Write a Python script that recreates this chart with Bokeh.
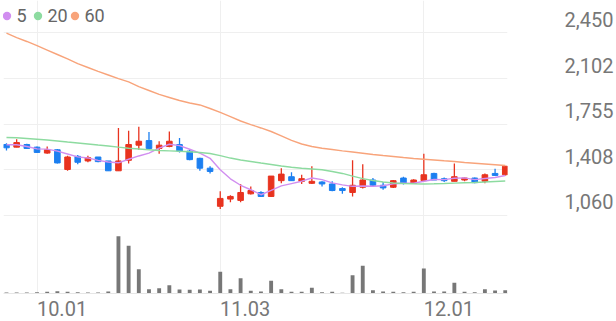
from bokeh.plotting import figure
from bokeh.models import FixedTicker, Range1d, Legend, LegendItem, ColumnDataSource
from bokeh.embed import file_html
from bokeh.resources import INLINE

# ---------------- data ----------------
idx = list(range(50))
opens = [1600, 1580, 1600, 1580, 1535, 1560, 1410, 1510, 1475, 1505,
         1475, 1400, 1480, 1595, 1630, 1570, 1585, 1600, 1550, 1495,
         1420, 1130, 1185, 1175, 1225, 1235, 1205, 1325, 1355, 1320,
         1305, 1315, 1300, 1265, 1235, 1275, 1330, 1290, 1275, 1345,
         1305, 1325, 1380, 1340, 1320, 1330, 1345, 1320, 1380, 1370]
highs = [1610, 1640, 1605, 1585, 1585, 1565, 1515, 1520, 1515, 1505,
         1475, 1725, 1705, 1735, 1695, 1625, 1700, 1650, 1560, 1500,
         1435, 1245, 1215, 1300, 1280, 1245, 1360, 1420, 1390, 1370,
         1435, 1320, 1320, 1275, 1480, 1450, 1345, 1315, 1330, 1355,
         1335, 1530, 1385, 1350, 1455, 1350, 1350, 1380, 1415, 1435]
lows = [1555, 1580, 1565, 1535, 1530, 1455, 1400, 1450, 1465, 1465,
        1400, 1400, 1455, 1560, 1570, 1530, 1580, 1540, 1480, 1400,
        1380, 1110, 1160, 1160, 1220, 1200, 1200, 1305, 1325, 1300,
        1300, 1280, 1245, 1225, 1205, 1265, 1280, 1255, 1270, 1295,
        1305, 1325, 1330, 1315, 1320, 1320, 1305, 1305, 1360, 1365]
closes = [1575, 1615, 1570, 1540, 1560, 1460, 1505, 1465, 1500, 1470,
          1400, 1475, 1600, 1625, 1570, 1595, 1625, 1550, 1485, 1420,
          1395, 1190, 1205, 1235, 1250, 1205, 1360, 1375, 1325, 1340,
          1320, 1300, 1250, 1250, 1290, 1330, 1290, 1270, 1325, 1305,
          1330, 1370, 1330, 1325, 1355, 1345, 1310, 1370, 1365, 1435]
ma5 = [1598, 1598, 1585, 1567, 1565, 1550, 1528, 1506, 1498, 1479,
       1467, 1461, 1488, 1513, 1534, 1572, 1602, 1592, 1564, 1534,
       1495, 1408, 1339, 1290, 1256, 1218, 1251, 1285, 1303, 1321,
       1345, 1333, 1308, 1293, 1282, 1284, 1282, 1286, 1301, 1305,
       1305, 1321, 1334, 1333, 1343, 1346, 1333, 1341, 1349, 1364]
ma20 = [1653, 1651, 1646, 1640, 1634, 1627, 1619, 1612, 1604, 1596,
        1589, 1580, 1572, 1566, 1560, 1554, 1552, 1549, 1545, 1539,
        1532, 1516, 1497, 1482, 1471, 1459, 1448, 1437, 1427, 1420,
        1414, 1408, 1395, 1380, 1360, 1341, 1326, 1315, 1307, 1303,
        1301, 1300, 1301, 1303, 1306, 1309, 1311, 1315, 1319, 1322]
ma60 = [2448, 2414, 2384, 2353, 2319, 2285, 2251, 2216, 2186, 2156,
        2129, 2102, 2076, 2041, 2011, 1981, 1958, 1935, 1916, 1901,
        1874, 1844, 1813, 1779, 1752, 1726, 1699, 1665, 1631, 1604,
        1585, 1572, 1562, 1552, 1543, 1534, 1524, 1516, 1509, 1501,
        1494, 1488, 1482, 1476, 1471, 1463, 1458, 1452, 1446, 1440]
volume = [10, 10, 10, 13, 17, 23, 17, 13, 10, 10,
          20, 573, 477, 243, 43, 53, 83, 40, 37, 40,
          27, 217, 43, 153, 27, 20, 127, 43, 17, 17,
          57, 13, 17, 7, 183, 277, 33, 20, 17, 13,
          17, 250, 20, 20, 107, 17, 13, 43, 30, 33]
x_tick_pos = [3, 21, 41]
x_tick_labels = ["10.01", "11.03", "12.01"]
y_grid_values = [1060, 1408, 1755, 2102, 2450]
ma_labels = ["5", "20", "60"]

# ---------------- styles / layout ----------------
RED, BLUE = "#e8331f", "#1c7ff0"
MA_COLORS = ["#d18ef0", "#8ddba0", "#f8a47b"]
GRID = "#efefef"
TEXT = "#777777"
FONT = "Roboto"

W, H = 616, 321
FRAME_H = 293
LEFT_PAD, RIGHT_PAD = 3, 105
STEP_PX = 10.26
# pixel rows (from top) of the lowest and highest price grid lines
G_LO_PX, G_HI_PX = 215.0, 32.3
upp = (y_grid_values[-1] - y_grid_values[0]) / (G_LO_PX - G_HI_PX)
y_start = y_grid_values[0] - (FRAME_H - G_LO_PX) * upp
y_end = y_grid_values[-1] + G_HI_PX * upp
x_start = -3.0 / STEP_PX
x_end = x_start + (W - LEFT_PAD - RIGHT_PAD) / STEP_PX

p = figure(width=W, height=H, output_backend="svg", toolbar_location=None,
           y_axis_location="right",
           x_range=Range1d(x_start, x_end), y_range=Range1d(y_start, y_end),
           min_border_left=LEFT_PAD, min_border_right=RIGHT_PAD,
           min_border_top=0, min_border_bottom=H - FRAME_H)
p.outline_line_color = None
p.background_fill_color = "white"
p.border_fill_color = "white"
p.extra_y_ranges = {"vol": Range1d(0, FRAME_H * 10)}

# grids
p.xgrid[0].ticker = FixedTicker(ticks=x_tick_pos)
p.ygrid[0].ticker = FixedTicker(ticks=y_grid_values)
for g in (p.xgrid[0], p.ygrid[0]):
    g.grid_line_color = GRID
    g.grid_line_width = 1

# x axis (labels start at their grid line)
LABEL_SHIFT_PX = 25.2
x_label_ticks = [t + LABEL_SHIFT_PX / STEP_PX for t in x_tick_pos]
xa = p.xaxis[0]
xa.ticker = FixedTicker(ticks=x_label_ticks)
xa.major_label_overrides = {t: s for t, s in zip(x_label_ticks, x_tick_labels)}
xa.major_tick_line_color = None
xa.minor_tick_line_color = None
xa.axis_line_color = "#e6e6e6"
xa.major_label_standoff = 1
xa.major_label_text_font = FONT
xa.major_label_text_font_size = "20px"
xa.major_label_text_color = TEXT

# y axis (labels sit above their grid lines)
LABEL_LIFT_PX = 13.5
label_ticks = [int(round(v + LABEL_LIFT_PX * upp)) for v in y_grid_values]
ya = p.yaxis[0]
ya.ticker = FixedTicker(ticks=label_ticks)
ya.major_label_overrides = {t: f"{v:,}" for t, v in zip(label_ticks, y_grid_values)}
ya.major_tick_line_color = None
ya.minor_tick_line_color = None
ya.axis_line_color = None
ya.major_label_standoff = 51
ya.major_label_text_font = FONT
ya.major_label_text_font_size = "20px"
ya.major_label_text_color = TEXT

# volume
p.vbar(x=idx, top=volume, width=0.38, y_range_name="vol",
       fill_color="#777777", line_color=None)

# candles
colors = [RED if c >= o else BLUE for o, c in zip(opens, closes)]
src = ColumnDataSource(dict(
    x=idx, high=highs, low=lows,
    top=[max(o, c) for o, c in zip(opens, closes)],
    bottom=[min(o, c) for o, c in zip(opens, closes)],
    color=colors))
p.segment(x0="x", y0="low", x1="x", y1="high", line_color="color",
          line_width=1.3, source=src)
p.vbar(x="x", top="top", bottom="bottom", width=0.55, fill_color="color",
       line_color="color", line_width=1, source=src)

# moving averages + one legend per entry (dot centres at 6, 37, 74 px)
LEGEND_DOT_PX = [6, 37, 74]
for series, col, lab, cx in zip([ma5, ma20, ma60], MA_COLORS, ma_labels, LEGEND_DOT_PX):
    p.line(idx, series, line_color=col, line_width=1.4)
    dot = p.scatter(idx, series, size=9, fill_color=col, line_color=None)
    dot.visible = False
    lg = Legend(items=[LegendItem(label=lab, renderers=[dot])],
                orientation="horizontal",
                location=(cx - 10.5 - LEFT_PAD, FRAME_H - 26),
                glyph_width=21, glyph_height=21, label_standoff=0,
                label_width=0, padding=0, margin=0, border_line_color=None,
                background_fill_alpha=0, label_text_font=FONT,
                label_text_font_size="18px", label_text_color="#666666")
    p.add_layout(lg, "center")

open("out.html", "w").write(file_html(p, INLINE))
